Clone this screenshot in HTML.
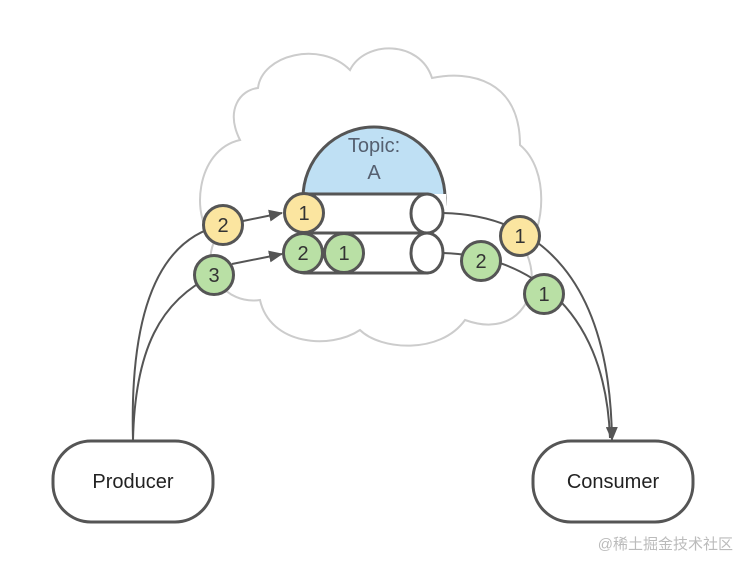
<!DOCTYPE html>
<html><head><meta charset="utf-8"><style>
html,body{margin:0;padding:0;background:#fff;}
svg{display:block}
text{font-family:"Liberation Sans",sans-serif;}
</style></head><body>
<svg width="748" height="568" viewBox="0 0 748 568" xmlns="http://www.w3.org/2000/svg">
<defs>
<marker id="ar2" markerWidth="14" markerHeight="12" refX="13" refY="6" orient="auto" markerUnits="userSpaceOnUse"><path d="M0,0 L14,6 L0,12 z" fill="#555"/></marker></defs>
<path d="M258,88 C262,55 320,40 350,70 C365,40 420,40 432,78 C470,70 520,80 520,145 C550,170 545,230 525,250 C545,290 520,340 465,320 C440,355 380,350 360,330 C330,350 270,345 260,300 C225,305 200,270 215,240 C190,220 195,150 240,140 C225,110 240,90 258,88 Z" fill="#fff" stroke="#ccc" stroke-width="2"/>
<circle cx="374" cy="198" r="71" fill="#bfe0f4" stroke="#555" stroke-width="3"/>
<rect x="296" y="194" width="150" height="82" fill="#fff"/>
<text x="374" y="152" font-size="20" fill="#556070" text-anchor="middle">Topic:</text>
<text x="374" y="179" font-size="20" fill="#556070" text-anchor="middle">A</text>
<path d="M304,194 L427,194 L427,233 L304,233 A14,19.5 0 0 1 304,194 Z" fill="#fff" stroke="#555" stroke-width="3"/>
<ellipse cx="427" cy="213.5" rx="16" ry="19.5" fill="#fff" stroke="#555" stroke-width="3"/>
<path d="M304,233 L427,233 L427,273 L304,273 A14,20 0 0 1 304,233 Z" fill="#fff" stroke="#555" stroke-width="3"/>
<ellipse cx="427" cy="253" rx="16" ry="20" fill="#fff" stroke="#555" stroke-width="3"/>
<path d="M133,440 C130,330 150,240 223,225" fill="none" stroke="#555" stroke-width="2"/>
<path d="M243,221 L282,213" fill="none" stroke="#555" stroke-width="2" marker-end="url(#ar2)"/>
<path d="M133,440 C135,350 160,300 214,275" fill="none" stroke="#555" stroke-width="2"/>
<path d="M232,264 L282,254" fill="none" stroke="#555" stroke-width="2" marker-end="url(#ar2)"/>
<path d="M443,213 C540,215 610,280 612,440" fill="none" stroke="#555" stroke-width="2" marker-end="url(#ar2)"/>
<path d="M443,253 C520,255 605,300 610,438" fill="none" stroke="#555" stroke-width="2"/>
<g stroke="#555" stroke-width="3">
<circle cx="304" cy="213" r="19.5" fill="#fbe5a0"/>
<circle cx="223" cy="225" r="19.5" fill="#fbe5a0"/>
<circle cx="520" cy="236" r="19.5" fill="#fbe5a0"/>
<circle cx="303" cy="253" r="19.5" fill="#b9e0a5"/>
<circle cx="344" cy="253" r="19.5" fill="#b9e0a5"/>
<circle cx="214" cy="275" r="19.5" fill="#b9e0a5"/>
<circle cx="481" cy="261" r="19.5" fill="#b9e0a5"/>
<circle cx="544" cy="294" r="19.5" fill="#b9e0a5"/>
</g>
<g font-size="20" fill="#333" text-anchor="middle">
<text x="304" y="220">1</text><text x="223" y="232">2</text><text x="520" y="243">1</text>
<text x="303" y="260">2</text><text x="344" y="260">1</text><text x="214" y="282">3</text>
<text x="481" y="268">2</text><text x="544" y="301">1</text>
</g>
<rect x="53" y="441" width="160" height="81" rx="38" fill="#fff" stroke="#555" stroke-width="3"/>
<rect x="533" y="441" width="160" height="81" rx="38" fill="#fff" stroke="#555" stroke-width="3"/>
<text x="133" y="488" font-size="20" fill="#222" text-anchor="middle">Producer</text>
<text x="613" y="488" font-size="20" fill="#222" text-anchor="middle">Consumer</text>
<text x="733" y="549" font-size="15" fill="#bbb" text-anchor="end" style='font-family:"Liberation Sans","Noto Sans CJK SC",sans-serif'>@稀土掘金技术社区</text>
</svg>
</body></html>
